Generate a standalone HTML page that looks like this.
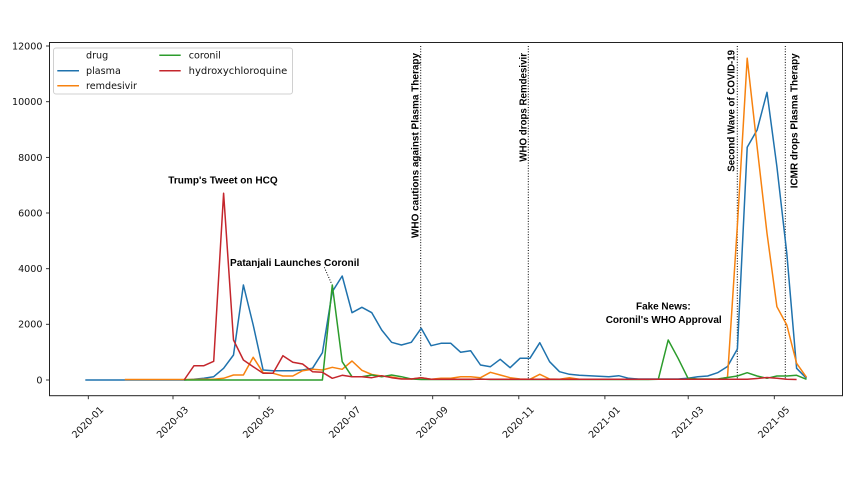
<!DOCTYPE html>
<html>
<head>
<meta charset="utf-8">
<style>
  html, body { margin: 0; padding: 0; background: #ffffff; }
  svg { display: block; }
  .tick { font-family: "DejaVu Sans", "Liberation Sans", sans-serif; font-size: 9.6px; fill: #111; }
  .ann { font-family: "Liberation Sans", "DejaVu Sans", sans-serif; font-size: 10px; font-weight: bold; fill: #000; }
  .leg { font-family: "DejaVu Sans", "Liberation Sans", sans-serif; font-size: 9.6px; fill: #111; }
</style>
</head>
<body>
<svg width="850" height="478" viewBox="0 0 850 478" xmlns="http://www.w3.org/2000/svg">
  <rect x="0" y="0" width="850" height="478" fill="#ffffff"/>

  <!-- vertical event lines -->
  <g stroke="#000" stroke-width="1" stroke-dasharray="1,1.65" fill="none">
    <line x1="420.7" y1="46" x2="420.7" y2="380"/>
    <line x1="528.3" y1="46" x2="528.3" y2="380"/>
    <line x1="737.3" y1="46" x2="737.3" y2="380"/>
    <line x1="785.3" y1="46" x2="785.3" y2="380"/>
    <line x1="324.3" y1="267.3" x2="331.7" y2="284"/>
  </g>

  <!-- series -->
  <g fill="none" stroke-width="1.5" stroke-linejoin="round" stroke-linecap="butt">
    <!-- plasma -->
    <polyline stroke="#1f72ad" points="
      85.3,380 95.2,380 105.1,380 114.9,380 124.8,380 134.7,380 144.6,380 154.5,380 164.3,380 174.2,380
      184.1,380 194.0,379.3 203.9,378.3 213.7,376.7 223.6,368.3 233.5,355 243.4,285 253.2,325 263.1,370 273.0,370.7
      282.9,370.7 292.8,370.7 302.6,370 312.5,368.3 322.4,352.7 332.3,291.7 342.2,276 352.0,312.7 361.9,307.3 371.8,312.7
      381.7,330 391.6,342.3 401.4,345 411.3,342.3 421.2,328.3 431.1,345.7 441.0,343.3 450.8,343.3 460.7,352.3 470.6,350.7
      480.5,365 490.4,366.7 500.2,359.3 510.1,367.7 520.0,358.3 529.9,358.3 539.8,342.7 549.6,361.7 559.5,371.7 569.4,374.3
      579.3,375.3 589.2,375.7 599.0,376.3 608.9,376.7 618.8,375.7 628.7,378.3 638.6,379 648.4,379 658.3,379 668.2,379
      678.1,379 688.0,378.3 697.8,376.7 707.7,376 717.6,372.7 727.5,366.5 737.4,349 747.2,147.3 757.1,130 767.0,92.3
      776.9,166.7 786.8,253.3 796.6,368.3 806.5,378.3"/>
    <!-- remdesivir -->
    <polyline stroke="#f7820f" points="
      124.8,379.5 134.7,379.5 144.6,379.5 154.5,379.5 164.3,379.5 174.2,379.5
      184.1,379.5 194.0,379.5 203.9,379.3 213.7,379.3 223.6,378.3 233.5,375 243.4,375 253.2,357.3 263.1,372.7 273.0,373.3
      282.9,376 292.8,376 302.6,370.7 312.5,369.3 322.4,370 332.3,367.3 342.2,369.3 352.0,361 361.9,370.3 371.8,374.5
      381.7,376 391.6,377 401.4,378.7 411.3,379 421.2,377.7 431.1,379.3 441.0,378.3 450.8,378.3 460.7,376.7 470.6,376.7
      480.5,377.7 490.4,372.3 500.2,375 510.1,377.7 520.0,379 529.9,379.3 539.8,374.3 549.6,379 559.5,379.3 569.4,377.7
      579.3,379.3 589.2,379.3 599.0,379.3 608.9,379.3 618.8,379.3 628.7,379.3 638.6,379.3 648.4,379.3 658.3,379.3 668.2,379.3
      678.1,379.3 688.0,379.3 697.8,379.3 707.7,379.3 717.6,379.3 727.5,377.3 737.4,225 747.2,58.3 757.1,146.7 767.0,233.3
      776.9,306.7 786.8,325 796.6,363.3 806.5,377.3"/>
    <!-- coronil -->
    <polyline stroke="#2c9c2c" points="
      184.1,380 194.0,380 203.9,380 213.7,380 223.6,380 233.5,380 243.4,380 253.2,380 263.1,380 273.0,380
      282.9,380 292.8,380 302.6,380 312.5,380 322.4,380 332.3,285 342.2,361.7 352.0,376.7 361.9,376.7 371.8,375
      381.7,376.7 391.6,375 401.4,376.7 411.3,379 421.2,379.5 431.1,379.5 441.0,379.5 450.8,379.5 460.7,379.5 470.6,379.5
      480.5,379 490.4,379.5 500.2,379.5 510.1,379.5 520.0,379.5 529.9,379.5 539.8,379.5 549.6,379.5 559.5,379.5 569.4,379.5
      579.3,379.5 589.2,379.5 599.0,379.5 608.9,379.5 618.8,379.5 628.7,379.5 638.6,379.5 648.4,379.5 658.3,379.3 668.2,340
      678.1,358.3 688.0,378.3 697.8,379 707.7,379 717.6,379 727.5,377.5 737.4,376 747.2,372.7 757.1,376 767.0,378.3
      776.9,376 786.8,376 796.6,375.3 806.5,379.3"/>
    <!-- hydroxychloroquine -->
    <polyline stroke="#c4262c" points="
      184.1,380 194.0,365.7 203.9,365.7 213.7,361.3 223.6,193.3 233.5,340 243.4,360 253.2,366.7 263.1,373.3 273.0,373.3
      282.9,355.7 292.8,362.3 302.6,364 312.5,371.7 322.4,372.3 332.3,378.3 342.2,375.3 352.0,376.7 361.9,376.7 371.8,377.7
      381.7,375.7 391.6,377.7 401.4,379 411.3,379 421.2,377.7 431.1,379.3 441.0,379.3 450.8,379.3 460.7,379.3 470.6,379.3
      480.5,379.3 490.4,379.3 500.2,379.3 510.1,379.3 520.0,379.3 529.9,379.3 539.8,379.3 549.6,379.3 559.5,379.3 569.4,379.3
      579.3,379.3 589.2,379.3 599.0,379.3 608.9,379.3 618.8,379.3 628.7,379.3 638.6,379.3 648.4,379.3 658.3,379.3 668.2,379.3
      678.1,379.3 688.0,379.3 697.8,379.3 707.7,379.3 717.6,379.3 727.5,379.3 737.4,379.3 747.2,379.3 757.1,378.5 767.0,377.5
      776.9,378.3 786.8,379.3 796.6,379.5"/>
  </g>

  <!-- axes frame -->
  <rect x="49.5" y="42.5" width="793" height="353.2" fill="none" stroke="#222" stroke-width="1"/>

  <!-- y ticks -->
  <g stroke="#222" stroke-width="0.9">
    <line x1="46" y1="380" x2="49.5" y2="380"/>
    <line x1="46" y1="324.3" x2="49.5" y2="324.3"/>
    <line x1="46" y1="268.7" x2="49.5" y2="268.7"/>
    <line x1="46" y1="213" x2="49.5" y2="213"/>
    <line x1="46" y1="157.4" x2="49.5" y2="157.4"/>
    <line x1="46" y1="101.7" x2="49.5" y2="101.7"/>
    <line x1="46" y1="46" x2="49.5" y2="46"/>
  </g>
  <g class="tick" text-anchor="end">
    <text x="42.5" y="383.4">0</text>
    <text x="42.5" y="327.7">2000</text>
    <text x="42.5" y="272.1">4000</text>
    <text x="42.5" y="216.4">6000</text>
    <text x="42.5" y="160.8">8000</text>
    <text x="42.5" y="105.1">10000</text>
    <text x="42.5" y="49.4">12000</text>
  </g>

  <!-- x ticks -->
  <g stroke="#222" stroke-width="0.9">
    <line x1="88.3" y1="395.7" x2="88.3" y2="399.2"/>
    <line x1="173.0" y1="395.7" x2="173.0" y2="399.2"/>
    <line x1="259.1" y1="395.7" x2="259.1" y2="399.2"/>
    <line x1="345.2" y1="395.7" x2="345.2" y2="399.2"/>
    <line x1="432.7" y1="395.7" x2="432.7" y2="399.2"/>
    <line x1="518.8" y1="395.7" x2="518.8" y2="399.2"/>
    <line x1="604.9" y1="395.7" x2="604.9" y2="399.2"/>
    <line x1="688.2" y1="395.7" x2="688.2" y2="399.2"/>
    <line x1="774.3" y1="395.7" x2="774.3" y2="399.2"/>
  </g>
  <g class="tick" text-anchor="middle" dominant-baseline="central">
    <text transform="translate(88.3,422.7) rotate(-45)">2020-01</text>
    <text transform="translate(173.0,422.7) rotate(-45)">2020-03</text>
    <text transform="translate(259.1,422.7) rotate(-45)">2020-05</text>
    <text transform="translate(345.2,422.7) rotate(-45)">2020-07</text>
    <text transform="translate(432.7,422.7) rotate(-45)">2020-09</text>
    <text transform="translate(518.8,422.7) rotate(-45)">2020-11</text>
    <text transform="translate(604.9,422.7) rotate(-45)">2021-01</text>
    <text transform="translate(688.2,422.7) rotate(-45)">2021-03</text>
    <text transform="translate(774.3,422.7) rotate(-45)">2021-05</text>
  </g>

  <!-- annotations -->
  <g class="ann">
    <text x="168.3" y="183.6" textLength="109.4" lengthAdjust="spacingAndGlyphs">Trump's Tweet on HCQ</text>
    <text x="230" y="265.9" textLength="129.3" lengthAdjust="spacingAndGlyphs">Patanjali Launches Coronil</text>
    <text x="636" y="309.3" textLength="54.7" lengthAdjust="spacingAndGlyphs">Fake News:</text>
    <text x="605.7" y="322.9" textLength="116" lengthAdjust="spacingAndGlyphs">Coronil's WHO Approval</text>
    <text transform="translate(418.6,238) rotate(-90)" textLength="185" lengthAdjust="spacingAndGlyphs">WHO cautions against Plasma Therapy</text>
    <text transform="translate(526.3,161.7) rotate(-90)" textLength="108.7" lengthAdjust="spacingAndGlyphs">WHO drops Remdesivir</text>
    <text transform="translate(734.3,171.7) rotate(-90)" textLength="121.7" lengthAdjust="spacingAndGlyphs">Second Wave of COVID-19</text>
    <text transform="translate(797.6,188.3) rotate(-90)" textLength="135" lengthAdjust="spacingAndGlyphs">ICMR drops Plasma Therapy</text>
  </g>

  <!-- legend -->
  <rect x="53.5" y="48" width="239" height="46" rx="2.5" ry="2.5" fill="#ffffff" fill-opacity="0.85" stroke="#d0d0d0" stroke-width="1"/>
  <g stroke-width="1.5">
    <line x1="57.3" y1="70.8" x2="79" y2="70.8" stroke="#1f72ad"/>
    <line x1="57.3" y1="85.8" x2="79" y2="85.8" stroke="#f7820f"/>
    <line x1="159.3" y1="55.2" x2="180.7" y2="55.2" stroke="#2c9c2c"/>
    <line x1="159.3" y1="70.8" x2="180.7" y2="70.8" stroke="#c4262c"/>
  </g>
  <g class="leg">
    <text x="86" y="58.4">drug</text>
    <text x="86" y="74.1">plasma</text>
    <text x="86" y="89.1">remdesivir</text>
    <text x="188.7" y="58.4">coronil</text>
    <text x="188.7" y="74.1" textLength="98.6" lengthAdjust="spacingAndGlyphs">hydroxychloroquine</text>
  </g>
</svg>
</body>
</html>
